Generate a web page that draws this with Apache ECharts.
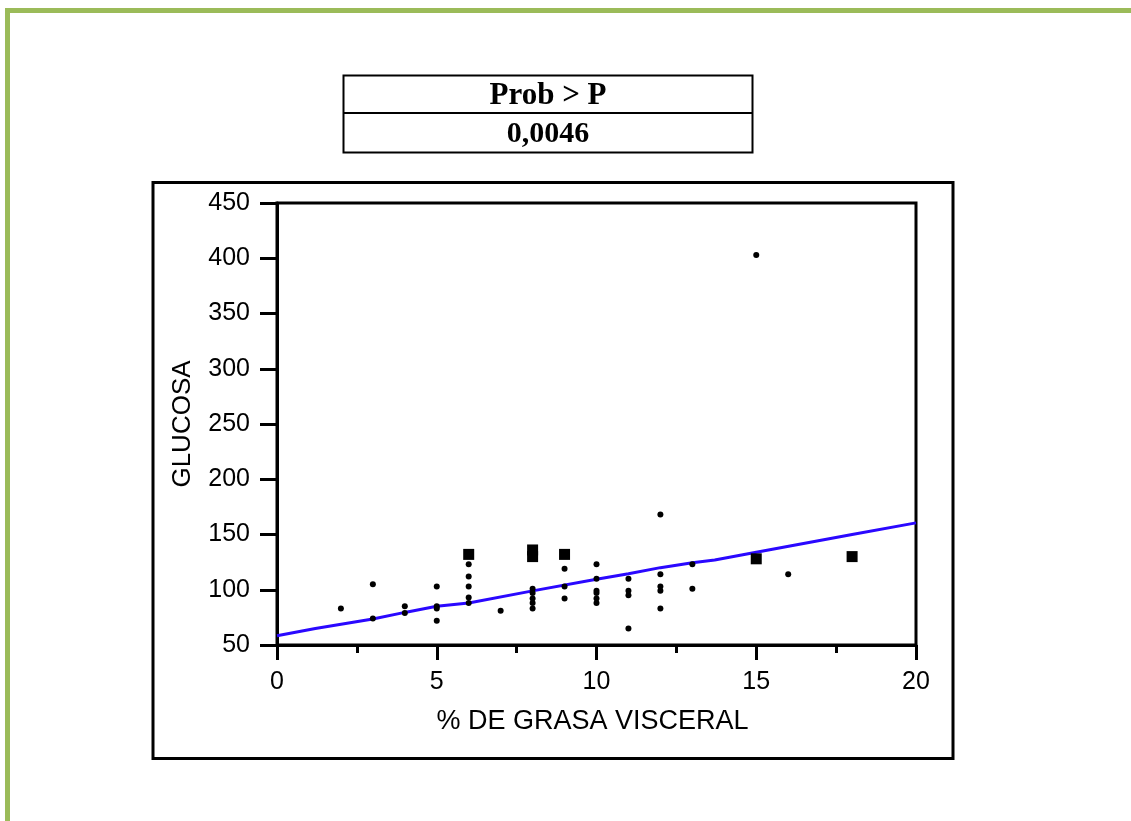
<!DOCTYPE html>
<html>
<head>
<meta charset="utf-8">
<title>Glucosa vs % de grasa visceral</title>
<script src="https://cdn.jsdelivr.net/npm/echarts@6/dist/echarts.min.js"></script>
<style>
  html, body { margin: 0; padding: 0; background: #fff; }
  #chart { width: 1131px; height: 821px; }
</style>
</head>
<body>
<div id="chart"></div>
<script>
// small observations (dots)
const dotX = [2, 3, 3, 4, 4, 5, 5, 5, 5, 6, 6, 6, 6, 6, 7, 8, 8, 8, 8, 8,
  9, 9, 9, 10, 10, 10, 10, 10, 10, 11, 11, 11, 11, 12, 12, 12, 12, 12, 13, 13, 15, 16];
const dotY = [83, 105, 74, 85, 79, 103, 85, 83, 72, 123, 112, 103, 93, 88, 81, 101, 97, 92, 88, 83,
  119, 103, 92, 123, 110, 99, 97, 92, 88, 110, 99, 95, 65, 168, 114, 103, 99, 83, 123, 101, 403, 114];

// repeated observations (bigger squares)
const squareX = [6, 8, 8, 9, 15, 18];
const squareY = [132, 136, 130, 132, 128, 130];

// fitted curve
const fitX = [0, 1.2, 3, 4, 5, 6, 8, 10, 11, 12, 13, 13.7, 15, 18, 20];
const fitY = [58.4, 65, 73.5, 79.5, 85, 88, 99, 109.5, 114.5, 120, 124.5, 127, 134, 150, 160.5];

const xTicks = [0, 5, 10, 15, 20];
const yTicks = [50, 100, 150, 200, 250, 300, 350, 400, 450];

const tableHeader = 'Prob > P';
const tableValue = '0,0046';

const pairs = (xs, ys) => xs.map((x, i) => [x, ys[i]]);

const labelFont = { fontFamily: 'Liberation Sans', fontSize: 25, color: '#000' };

const chart = echarts.init(document.getElementById('chart'));

chart.setOption({
  animation: false,
  backgroundColor: '#fff',
  grid: {
    left: 277, top: 203, width: 639, height: 442,
    show: true, borderColor: '#000', borderWidth: 3
  },
  xAxis: {
    type: 'value',
    min: xTicks[0], max: xTicks[xTicks.length - 1], interval: 5,
    name: '% DE GRASA VISCERAL',
    nameLocation: 'middle', nameGap: 63,
    nameTextStyle: { fontFamily: 'Liberation Sans', fontSize: 27, color: '#000', padding: [0, 8, 0, 0] },
    axisLine: { lineStyle: { color: '#000', width: 3 } },
    axisTick: { inside: false, length: 15, lineStyle: { color: '#000', width: 3 } },
    minorTick: { show: true, splitNumber: 2, length: 8, lineStyle: { color: '#000', width: 3 } },
    axisLabel: Object.assign({ margin: 25 }, labelFont),
    splitLine: { show: false },
    minorSplitLine: { show: false }
  },
  yAxis: {
    type: 'value',
    min: yTicks[0], max: yTicks[yTicks.length - 1], interval: 50,
    name: 'GLUCOSA',
    nameLocation: 'middle', nameGap: 81, nameRotate: 90,
    nameTextStyle: { fontFamily: 'Liberation Sans', fontSize: 26, color: '#000' },
    axisLine: { lineStyle: { color: '#000', width: 3 } },
    axisTick: { inside: false, length: 17, lineStyle: { color: '#000', width: 3 } },
    axisLabel: Object.assign({ margin: 27 }, labelFont),
    splitLine: { show: false }
  },
  series: [
    {
      type: 'line',
      data: pairs(fitX, fitY),
      showSymbol: false,
      symbol: 'none',
      lineStyle: { color: '#2a08ff', width: 3 },
      z: 2
    },
    {
      type: 'scatter',
      data: pairs(dotX, dotY),
      symbol: 'circle',
      symbolSize: 6,
      itemStyle: { color: '#000', opacity: 1 },
      z: 3
    },
    {
      type: 'scatter',
      data: pairs(squareX, squareY),
      symbol: 'rect',
      symbolSize: 11,
      itemStyle: { color: '#000', opacity: 1 },
      z: 3
    }
  ],
  graphic: [
    // green page border
    { type: 'line', shape: { x1: 6, y1: 10.5, x2: 1131, y2: 10.5 },
      style: { stroke: '#9bbb59', lineWidth: 5 } },
    { type: 'line', shape: { x1: 7.5, y1: 8, x2: 7.5, y2: 821 },
      style: { stroke: '#9bbb59', lineWidth: 5 } },
    // outer chart frame
    { type: 'rect', shape: { x: 153, y: 182.5, width: 800, height: 576 },
      style: { fill: 'none', stroke: '#000', lineWidth: 3 } },
    // p-value table
    { type: 'rect', shape: { x: 343.5, y: 75.5, width: 409, height: 77 },
      style: { fill: '#fff', stroke: '#000', lineWidth: 2 } },
    { type: 'line', shape: { x1: 343.5, y1: 113, x2: 752.5, y2: 113 },
      style: { stroke: '#000', lineWidth: 2 } },
    { type: 'text', x: 548, y: 96,
      style: { text: tableHeader, fontFamily: 'Liberation Serif', fontWeight: 'bold', fontSize: 31,
        fill: '#000', align: 'center', verticalAlign: 'middle' } },
    { type: 'text', x: 548, y: 134,
      style: { text: tableValue, fontFamily: 'Liberation Serif', fontWeight: 'bold', fontSize: 30,
        fill: '#000', align: 'center', verticalAlign: 'middle' } }
  ]
});
</script>
</body>
</html>
